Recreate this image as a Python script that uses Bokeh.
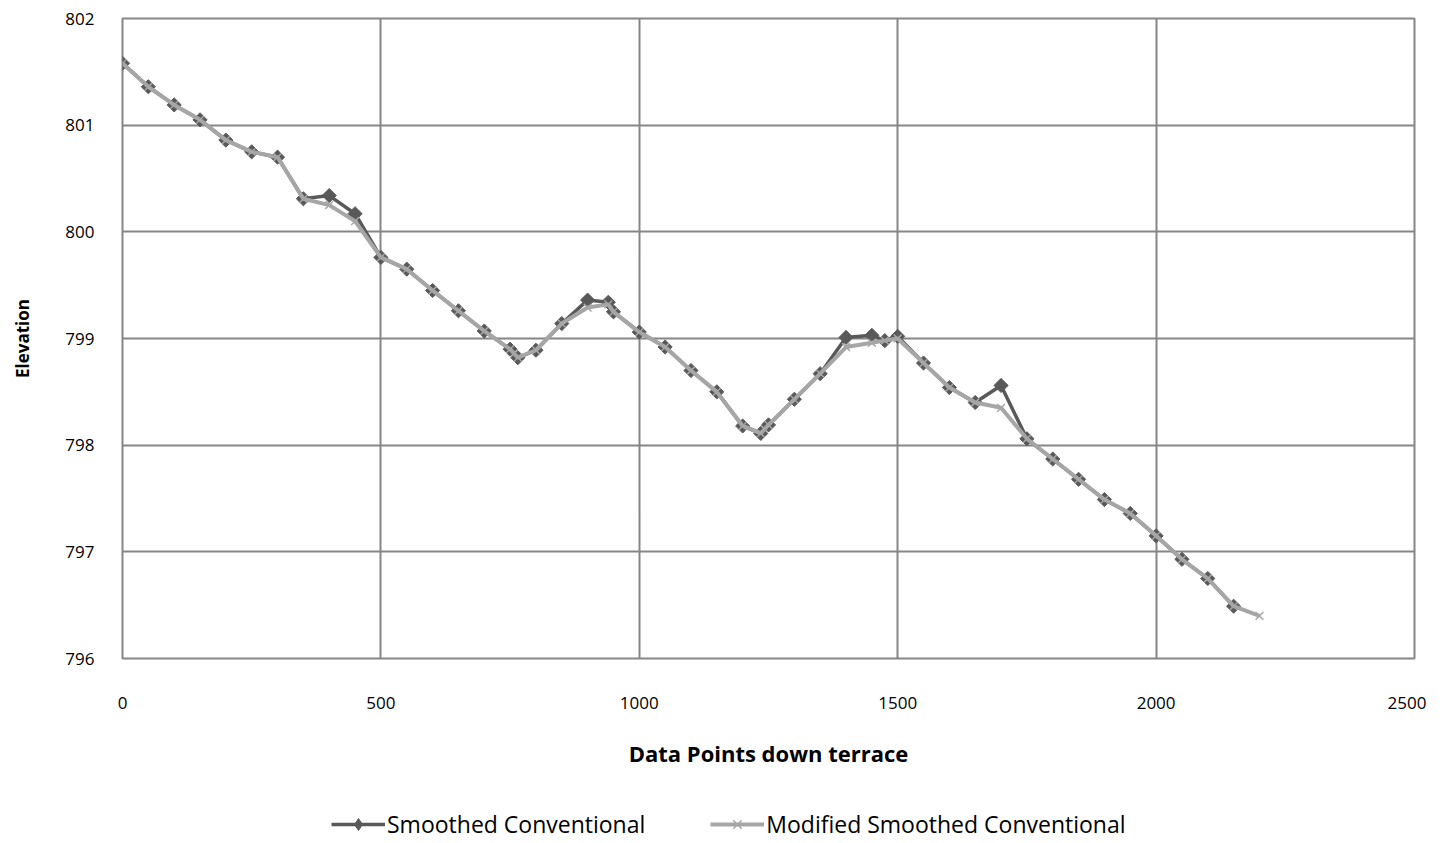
import math
from bokeh.plotting import figure
from bokeh.layouts import column
from bokeh.models import Legend, LegendItem, FixedTicker, Range1d
from bokeh.embed import file_html
from bokeh.resources import INLINE

# Data
x_smoothed = [0, 50, 100, 150, 200, 250, 300, 350, 400, 450, 500, 550, 600, 650, 700,
              750, 765, 800, 850, 900, 940, 950, 1000, 1050, 1100, 1150, 1200, 1235, 1250,
              1300, 1350, 1400, 1450, 1475, 1500, 1550, 1600, 1650, 1700, 1750, 1800, 1850,
              1900, 1950, 2000, 2050, 2100, 2150]
y_smoothed = [801.58, 801.36, 801.19, 801.05, 800.86, 800.75, 800.70, 800.31, 800.34, 800.17,
              799.76, 799.65, 799.45, 799.26, 799.07, 798.90, 798.82, 798.89, 799.14, 799.36,
              799.34, 799.25, 799.06, 798.92, 798.70, 798.50, 798.18, 798.11, 798.19, 798.43,
              798.67, 799.01, 799.03, 798.98, 799.02, 798.77, 798.54, 798.40, 798.56, 798.06,
              797.87, 797.68, 797.49, 797.36, 797.15, 796.93, 796.75, 796.49]

x_modified = x_smoothed + [2200]
y_modified = [801.58, 801.36, 801.19, 801.05, 800.86, 800.75, 800.70, 800.31, 800.25, 800.10,
              799.76, 799.65, 799.45, 799.26, 799.07, 798.90, 798.82, 798.89, 799.14, 799.29,
              799.32, 799.25, 799.06, 798.92, 798.70, 798.50, 798.18, 798.11, 798.19, 798.43,
              798.67, 798.92, 798.96, 798.98, 799.00, 798.77, 798.54, 798.40, 798.35, 798.06,
              797.87, 797.68, 797.49, 797.36, 797.15, 796.93, 796.75, 796.49, 796.40]

x_ticks = [0, 500, 1000, 1500, 2000, 2500]
y_ticks = [796, 797, 798, 799, 800, 801, 802]
series_names = ["Smoothed Conventional", "Modified Smoothed Conventional"]

FONT = "Open Sans"
GRID = "#868686"
DARK = "#595959"
LIGHT = "#A6A6A6"


def draw_series(fig, dark_marker="square", dark_angle=math.pi / 4, dark_size=10):
    l1 = fig.line(x_smoothed, y_smoothed, line_color=DARK, line_width=3.5)
    m1 = fig.scatter(x_smoothed, y_smoothed, marker=dark_marker, angle=dark_angle, size=dark_size,
                     fill_color=DARK, line_color=DARK)
    l2 = fig.line(x_modified, y_modified, line_color=LIGHT, line_width=4)
    m2 = fig.scatter(x_modified, y_modified, marker="x", size=11, line_color=LIGHT, line_width=1.5)
    return [l1, m1], [l2, m2]


p = figure(frame_width=1292, frame_height=640, output_backend="svg", toolbar_location=None,
           x_range=Range1d(0, 2500), y_range=Range1d(796, 802),
           min_border_left=122, min_border_right=12, min_border_top=18, min_border_bottom=132)

p.outline_line_color = GRID
p.outline_line_width = 2

for ax in (p.xaxis, p.yaxis):
    ax.axis_line_color = None
    ax.major_tick_line_color = None
    ax.minor_tick_line_color = None
    ax.major_label_text_font = FONT
    ax.major_label_text_font_size = "17px"
    ax.major_label_text_color = "#000000"
    ax.axis_label_text_font = FONT
    ax.axis_label_text_font_style = "bold"
    ax.axis_label_text_color = "#000000"

p.xaxis.axis_label_text_font_size = "22px"
p.yaxis.axis_label_text_font_size = "17px"
p.xaxis.ticker = FixedTicker(ticks=x_ticks)
p.yaxis.ticker = FixedTicker(ticks=y_ticks)
p.xaxis.axis_label = "Data Points down terrace"
p.yaxis.axis_label = "Elevation"
p.xaxis.major_label_standoff = 32
p.yaxis.major_label_standoff = 22
p.xaxis.axis_label_standoff = 26
p.yaxis.axis_label_standoff = 28

p.xgrid.ticker = FixedTicker(ticks=x_ticks)
p.ygrid.ticker = FixedTicker(ticks=y_ticks)
p.grid.grid_line_color = GRID
p.grid.grid_line_width = 2

draw_series(p)

# Legend strip (a second figure whose data lie outside its visible ranges)
lg = figure(width=1426, height=70, output_backend="svg", toolbar_location=None,
            x_range=Range1d(-5000, -4000), y_range=Range1d(0, 1),
            x_axis_type=None, y_axis_type=None,
            min_border_left=0, min_border_right=0, min_border_top=0, min_border_bottom=0)
lg.outline_line_color = None
lg.grid.visible = False
r1, r2 = draw_series(lg, dark_marker="diamond", dark_angle=0, dark_size=14)

legend = Legend(items=[LegendItem(label=series_names[0], renderers=r1),
                       LegendItem(label=series_names[1], renderers=r2)],
                orientation="horizontal", location=(209, 20),
                label_text_font=FONT, label_text_font_size="23px", label_text_color="#000000",
                glyph_width=54, glyph_height=30, spacing=65, label_standoff=2,
                border_line_color=None, background_fill_alpha=0,
                margin=0, padding=0)
lg.add_layout(legend)

layout = column(p, lg, spacing=0)
open("out.html", "w").write(file_html(layout, INLINE))
